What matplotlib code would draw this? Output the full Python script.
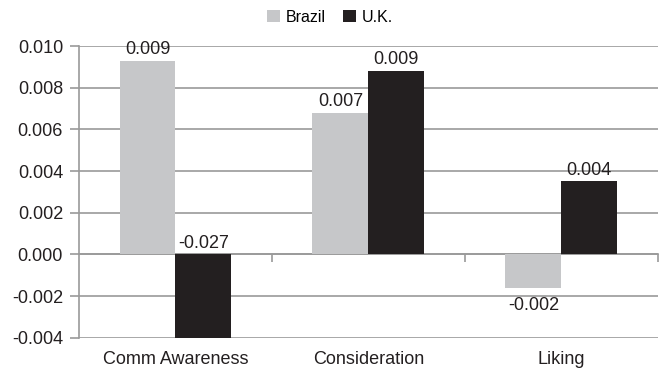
import numpy as np
import matplotlib.pyplot as plt
import matplotlib.transforms as mtransforms

plt.rcParams['font.family'] = ['Liberation Sans', 'DejaVu Sans']

categories = ['Comm Awareness', 'Consideration', 'Liking']
series = ['Brazil', 'U.K.']
brazil = [0.0093, 0.0068, -0.0016]
uk = [-0.027, 0.0088, 0.0035]
colors = ['#c6c7c9', '#231f20']
yticks = [-0.004, -0.002, 0.000, 0.002, 0.004, 0.006, 0.008, 0.010]

grid_col = '#9a9a9a'
txt_col = '#231f20'
fs = 13
ymin, ymax = -0.004, 0.010

fig = plt.figure(figsize=(6.6, 3.71), dpi=100)
ax = fig.add_axes([0.1197, 0.0898, 0.877, 0.786])

x = np.arange(len(categories))
w = 0.29
for k, (name, vals) in enumerate(zip(series, [brazil, uk])):
    pos = x + (k - 0.5) * w
    ax.bar(pos, vals, width=w, color=colors[k], label=name, zorder=3)
    for p, v in zip(pos, vals):
        txt = '%.3f' % v
        if v >= 0:
            ax.annotate(txt, (p, v), xytext=(0, 2), textcoords='offset points',
                        ha='center', va='bottom', fontsize=fs, color=txt_col)
        elif v < ymin:
            # bar runs off the bottom, so label it at the baseline
            ax.annotate(txt, (p, 0), xytext=(0, 2), textcoords='offset points',
                        ha='center', va='bottom', fontsize=fs, color=txt_col)
        else:
            ax.annotate(txt, (p, v), xytext=(0, -7), textcoords='offset points',
                        ha='center', va='top', fontsize=fs, color=txt_col)

ax.set_xlim(-0.5, len(categories) - 0.5)
ax.set_ylim(ymin, ymax)
ax.set_yticks(yticks)
ax.set_yticklabels(['%.3f' % t for t in yticks])
ax.yaxis.grid(True, color=grid_col, lw=1.2, zorder=0)
ax.set_axisbelow(True)

for s in ['top', 'right']:
    ax.spines[s].set_visible(False)
ax.spines['left'].set_color(grid_col)
ax.spines['left'].set_linewidth(1.2)
ax.spines['bottom'].set_position(('data', 0))
ax.spines['bottom'].set_color(grid_col)
ax.spines['bottom'].set_linewidth(1.2)

ax.tick_params(axis='y', length=6.5, width=1.2, color=grid_col, pad=5,
               labelsize=fs, labelcolor=txt_col)
ax.set_xticks(x)
ax.set_xticklabels([])
ax.tick_params(axis='x', which='major', length=0)
ax.set_xticks(x + 0.5, minor=True)
ax.tick_params(axis='x', which='minor', length=6, width=1.2, color=grid_col,
               direction='out')

# category names sit under the plot, not under the zero line
trans = mtransforms.blended_transform_factory(ax.transData, ax.transAxes)
for xi, c in zip(x, categories):
    ax.text(xi, -0.045, c, transform=trans, ha='center', va='top',
            fontsize=fs, color=txt_col)

fig.legend(loc='upper center', bbox_to_anchor=(0.5, 1.0), ncol=2, frameon=False,
           fontsize=11.5, handlelength=0.8, handleheight=0.8,
           handletextpad=0.35, columnspacing=1.1, borderaxespad=0.2)

fig.savefig('out.png', dpi=100)
